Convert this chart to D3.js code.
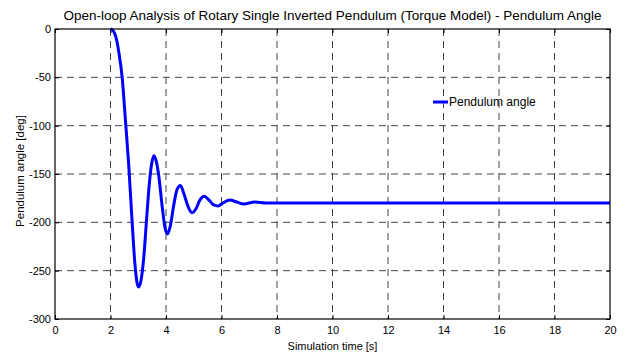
<!DOCTYPE html>
<html><head><meta charset="utf-8">
<script src="https://cdn.jsdelivr.net/npm/d3@7"></script>
<style>body{margin:0;background:#fff}svg{display:block}text{font-family:Arial,"Liberation Sans",sans-serif;fill:#000}</style>
</head><body><svg id="c" width="625" height="353"></svg>
<script>
const title = "Open-loop Analysis of Rotary Single Inverted Pendulum (Torque Model) - Pendulum Angle";
const xLabel = "Simulation time [s]";
const yLabel = "Pendulum angle [deg]";
const seriesName = "Pendulum angle";
const xTicks = [0,2,4,6,8,10,12,14,16,18,20];
const yTicks = [0,-50,-100,-150,-200,-250,-300];
const timeS = [2.0,2.1,2.2,2.3,2.42,2.54,2.66,2.78,2.88,2.96,3.02,3.1,3.2,3.3,3.4,3.48,3.56,3.64,3.74,3.86,3.96,4.06,4.16,4.28,4.40,4.52,4.64,4.8,4.94,5.08,5.22,5.38,5.55,5.72,5.88,6.05,6.3,6.55,6.8,7.2,7.6,8,10,12,14,16,18,20];
const angleDeg = [0,-2,-9,-24,-50,-95,-142,-200,-243,-263,-267,-260,-236,-197,-160,-140,-131,-136,-152,-183,-205,-212,-203,-182,-166,-162,-170,-184,-190,-186,-177,-173,-177,-182,-183,-180,-177,-179,-181,-179,-180,-180,-180,-180,-180,-180,-180,-180];

const svg = d3.select("#c");
const m = {l:55, r:610, t:29, b:319};
const x = d3.scaleLinear().domain([0,20]).range([m.l, m.r]);
const y = d3.scaleLinear().domain([-300,0]).range([m.b, m.t]);

// grid
const g = svg.append("g");
g.selectAll(".vx").data(xTicks.slice(1,-1)).enter().append("line")
  .attr("x1",d=>x(d)).attr("x2",d=>x(d)).attr("y1",m.t).attr("y2",m.b)
  .attr("stroke","#444").attr("stroke-width",1).attr("stroke-dasharray","7,5");
g.selectAll(".hy").data(yTicks.slice(1,-1)).enter().append("line")
  .attr("y1",d=>y(d)).attr("y2",d=>y(d)).attr("x1",m.l).attr("x2",m.r)
  .attr("stroke","#444").attr("stroke-width",1).attr("stroke-dasharray","7,5");

// axes
svg.append("g").attr("transform",`translate(0,${m.b})`)
  .call(d3.axisBottom(x).tickValues(xTicks).tickSize(-4).tickPadding(7).tickFormat(d3.format("d")));
svg.append("g").attr("transform",`translate(${m.l},0)`)
  .call(d3.axisLeft(y).tickValues(yTicks).tickSize(-4).tickPadding(4).tickFormat(d=>d));
svg.append("g").attr("transform",`translate(0,${m.t})`)
  .call(d3.axisTop(x).tickValues(xTicks).tickSize(-4).tickFormat(""));
svg.append("g").attr("transform",`translate(${m.r},0)`)
  .call(d3.axisRight(y).tickValues(yTicks).tickSize(-4).tickFormat(""));
svg.selectAll(".domain").remove();
svg.selectAll(".tick line").attr("stroke","#000");
svg.selectAll(".tick text").attr("font-size",11).attr("font-family","Arial, 'Liberation Sans', sans-serif").attr("fill","#000");

// line
const line = d3.line().x((d,i)=>x(timeS[i])).y(d=>y(d)).curve(d3.curveMonotoneX);
svg.append("path").datum(angleDeg).attr("d",line).attr("fill","none")
  .attr("stroke","#0000ff").attr("stroke-width",3).attr("stroke-linejoin","round");

// box
svg.append("rect").attr("x",m.l).attr("y",m.t).attr("width",m.r-m.l).attr("height",m.b-m.t)
  .attr("fill","none").attr("stroke","#000").attr("stroke-width",1.2);

// texts
svg.append("text").attr("x",(m.l+m.r)/2).attr("y",19.5).attr("text-anchor","middle").attr("font-size",13.5).text(title);
svg.append("text").attr("x",(m.l+m.r)/2).attr("y",350).attr("text-anchor","middle").attr("font-size",11).text(xLabel);
svg.append("text").attr("transform",`translate(24,171) rotate(-90)`).attr("text-anchor","middle").attr("font-size",11.5).text(yLabel);

// legend
svg.append("line").attr("x1",433).attr("x2",448).attr("y1",102).attr("y2",102).attr("stroke","#0000ff").attr("stroke-width",3);
svg.append("text").attr("x",449).attr("y",106).attr("font-size",12).text(seriesName);
</script></body></html>
